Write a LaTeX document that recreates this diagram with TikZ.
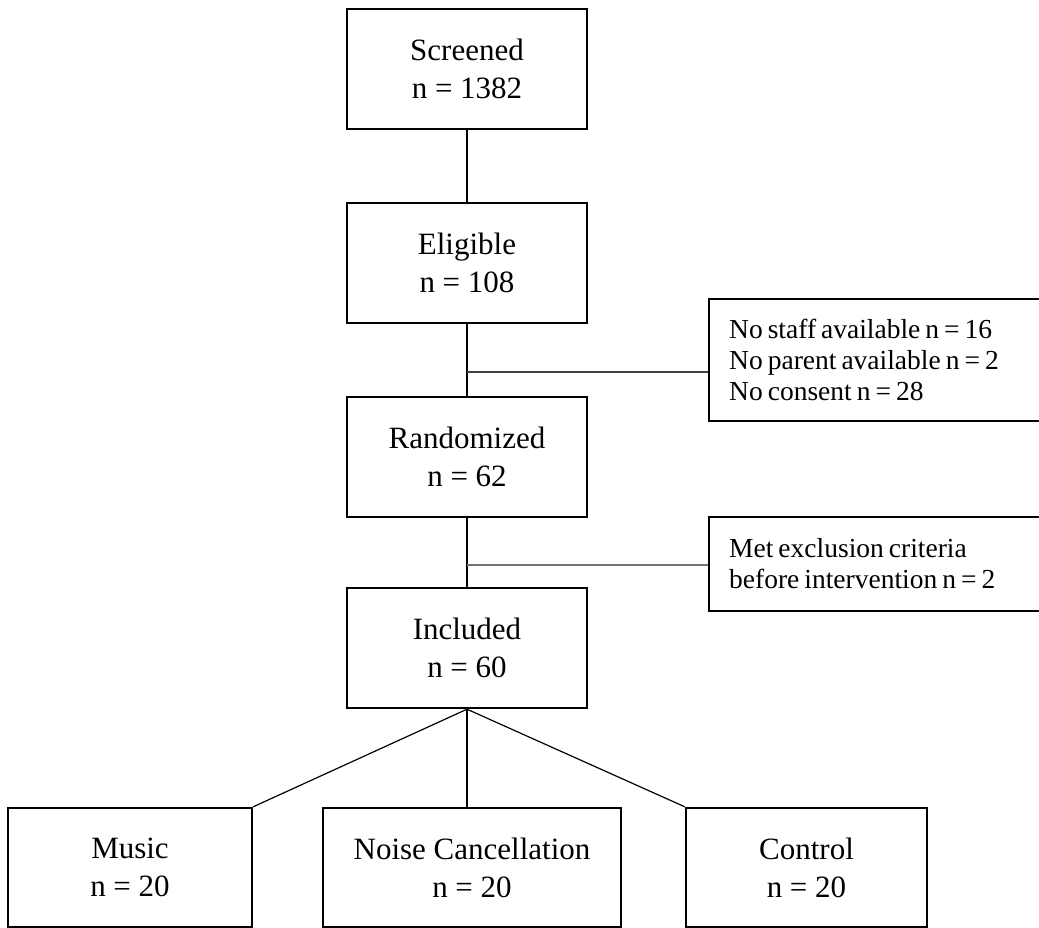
\documentclass[tikz,border=0pt]{standalone}
\usepackage{fontspec}
\setmainfont{Liberation Serif}
\usepackage{tikz}
\tikzset{
  stage/.style={draw, line width=2.4pt, minimum width=240pt, minimum height=120pt,
    align=center, font=\fontsize{31}{38}\selectfont},
  dropout/.style={draw, line width=2.4pt, minimum width=350pt, anchor=west,
    align=left, text width=310pt, inner xsep=20pt,
    font=\fontsize{27.5}{31}\selectfont,
    execute at begin node={\spaceskip=5pt plus 1pt\relax}},
  link/.style={line width=1.2pt}
}

\begin{document}
\begin{tikzpicture}[x=1pt, y=-1pt]
  \useasboundingbox (0, 0) rectangle (1039, 928);

  \node[stage] (screened) at (467, 69) {Screened\\ n = 1382};
  \node[stage] (eligible) at (467, 263) {Eligible\\ n = 108};
  \node[stage] (randomized) at (467, 457) {Randomized\\ n = 62};
  \node[stage] (included) at (467, 648) {Included\\ n = 60};

  \node[dropout, minimum height=122pt] (nostaff) at (708, 360)
    {No staff available n = 16\\ No parent available n = 2\\ No consent n = 28};
  \node[dropout, minimum height=94pt] (excluded) at (708, 564)
    {Met exclusion criteria\\ before intervention n = 2};

  \node[stage, minimum width=244pt, minimum height=119pt] (music) at (130, 867.5)
    {Music\\ n = 20};
  \node[stage, minimum width=298pt, minimum height=119pt] (noise) at (472, 867.5)
    {Noise Cancellation\\ n = 20};
  \node[stage, minimum width=241pt, minimum height=119pt] (control) at (806.5, 867.5)
    {Control\\ n = 20};

  % main line
  \draw[link] (screened) -- (eligible);
  \draw[link] (eligible) -- (randomized);
  \draw[link] (randomized) -- (included);

  % side branches
  \coordinate (split1) at (467, 372);
  \coordinate (split2) at (467, 565);
  \draw[link, black!75] (split1) -- (split1 -| nostaff.west);
  \draw[link, black!55] (split2) -- (split2 -| excluded.west);

  % groups
  \draw[link] (included.south) -- (music.north east);
  \draw[link] (included.south) -- (noise.north -| included.south);
  \draw[link] (included.south) -- (control.north west);
\end{tikzpicture}
\end{document}
